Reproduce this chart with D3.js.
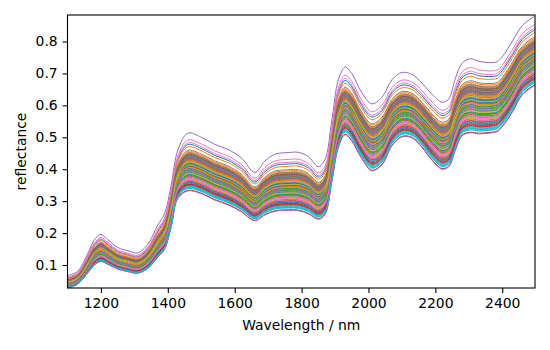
<!DOCTYPE html>
<html><head><meta charset="utf-8">
<script src="https://cdn.jsdelivr.net/npm/d3@7/dist/d3.min.js"></script>
<style>body{margin:0;background:#fff}svg{display:block}text{font-family:"DejaVu Sans",sans-serif}</style>
</head><body>
<svg id="c" width="550" height="350"></svg>
<script>
// Control wavelengths (nm)
const wavelengths = [1100,1130,1160,1180,1200,1220,1250,1280,1310,1340,1370,1390,1410,1430,1460,1500,1540,1580,1620,1660,1690,1720,1760,1790,1820,1850,1870,1890,1910,1930,1950,1980,2010,2040,2070,2100,2130,2160,2190,2220,2240,2260,2280,2305,2330,2360,2385,2400,2430,2460,2498];
// Upper envelope spectrum (highest sample)
const upperSpectrum = [0.067,0.080,0.135,0.178,0.196,0.180,0.155,0.145,0.138,0.165,0.225,0.260,0.350,0.460,0.513,0.500,0.478,0.462,0.435,0.390,0.425,0.447,0.452,0.453,0.440,0.408,0.430,0.550,0.680,0.720,0.700,0.640,0.605,0.625,0.680,0.703,0.697,0.670,0.635,0.610,0.620,0.685,0.732,0.746,0.738,0.734,0.737,0.752,0.800,0.850,0.880];
// Lower envelope spectrum (lowest sample)
const lowerSpectrum = [0.028,0.040,0.075,0.100,0.112,0.103,0.088,0.080,0.075,0.090,0.125,0.150,0.220,0.310,0.334,0.325,0.305,0.290,0.268,0.240,0.258,0.270,0.273,0.272,0.262,0.245,0.260,0.360,0.470,0.510,0.490,0.435,0.397,0.415,0.475,0.503,0.500,0.470,0.430,0.402,0.410,0.462,0.507,0.516,0.513,0.515,0.520,0.535,0.580,0.635,0.665];
// Relative level of each of the 80 samples between the envelopes
const sampleLevels = [0.80,0.76,0.45,0.00,1.00,0.52,0.88,0.70,0.40,0.12,
  0.35,0.62,0.28,0.18,-0.01,0.57,0.83,0.60,0.33,0.08,
  0.47,0.64,0.22,0.10,0.55,0.42,0.30,0.58,0.25,0.05,
  0.38,0.66,0.50,0.15,0.44,0.60,0.20,0.63,0.36,0.14,
  0.27,0.53,0.31,0.24,0.48,0.57,0.39,0.61,0.19,0.03,
  0.43,0.68,0.34,0.11,0.56,0.41,0.23,0.59,0.29,0.07,
  0.46,0.51,0.37,0.16,0.32,0.54,0.21,0.65,0.49,0.06,
  0.13,0.40,0.26,0.09,0.35,0.62,0.17,0.55,0.44,0.04];
const xTicks = [1200,1400,1600,1800,2000,2200,2400];
const yTicks = [0.1,0.2,0.3,0.4,0.5,0.6,0.7,0.8];
const colors = ["#1f77b4","#ff7f0e","#2ca02c","#d62728","#9467bd","#8c564b","#e377c2","#7f7f7f","#bcbd22","#17becf"];

const L = 67.5, R = 535, T = 15, B = 288;
const svg = d3.select("#c");
const x = d3.scaleLinear().domain([1100, 2498]).range([L, R]);
const y = d3.scaleLinear().domain([0.028, 0.883]).range([B, T]);

svg.append("defs").append("clipPath").attr("id","clip")
  .append("rect").attr("x",L).attr("y",T).attr("width",R-L).attr("height",B-T);

const series = sampleLevels.map(f => wavelengths.map((w,i) => [w, lowerSpectrum[i] + f*(upperSpectrum[i]-lowerSpectrum[i])]));
const line = d3.line().x(d => x(d[0])).y(d => y(d[1])).curve(d3.curveCatmullRom.alpha(0.5));

const g = svg.append("g").attr("clip-path","url(#clip)");
g.selectAll("path").data(series).join("path")
  .attr("d", line).attr("fill","none")
  .attr("stroke",(d,i)=>colors[i%10]).attr("stroke-width",1.0);

const fs = 13.9;
const xa = svg.append("g").attr("transform",`translate(0,${B})`)
  .call(d3.axisBottom(x).tickValues(xTicks).tickFormat(d3.format("d")).tickSize(4.9).tickPadding(4.9));
const ya = svg.append("g").attr("transform",`translate(${L},0)`)
  .call(d3.axisLeft(y).tickValues(yTicks).tickFormat(d3.format(".1f")).tickSize(4.9).tickPadding(4.9));
[xa,ya].forEach(a=>{
  a.select(".domain").remove();
  a.selectAll("line").attr("stroke","#000").attr("stroke-width",1.1);
  a.selectAll("text").attr("font-size",fs).attr("fill","#000").attr("font-family","DejaVu Sans");
});
svg.append("rect").attr("x",L).attr("y",T).attr("width",R-L).attr("height",B-T)
  .attr("fill","none").attr("stroke","#000").attr("stroke-width",1.1);

svg.append("text").attr("x",(L+R)/2).attr("y",330).attr("text-anchor","middle")
  .attr("font-size",fs).text("Wavelength / nm");
svg.append("text").attr("transform",`translate(26,${(T+B)/2}) rotate(-90)`).attr("text-anchor","middle")
  .attr("font-size",fs).text("reflectance");
</script>
</body></html>
